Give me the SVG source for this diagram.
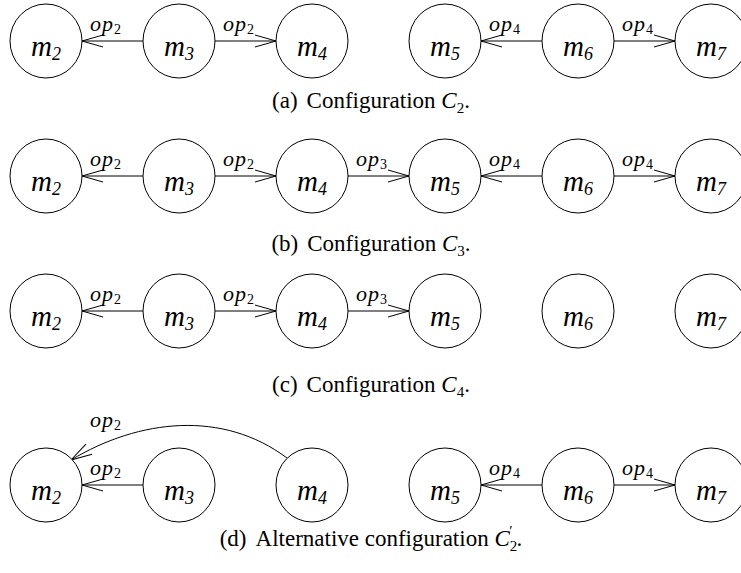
<svg xmlns="http://www.w3.org/2000/svg" width="741" height="573" viewBox="0 0 741 573">
<style>
.n{fill:#fff;stroke:#000;stroke-width:1}
.e{fill:none;stroke:#000;stroke-width:1;marker-end:url(#ah)}
.m{font-family:"Liberation Serif",serif;font-style:italic;font-size:29px;text-anchor:middle;fill:#000}
.s{font-size:18px}
.op{font-family:"Liberation Serif",serif;font-style:italic;font-size:22px;letter-spacing:1px;fill:#000}
.os{font-size:14px;font-style:normal}
.cap{font-family:"Liberation Serif",serif;font-size:23px;text-anchor:middle;fill:#000}
.cs{font-size:15px}
</style>
<defs>
<marker id="ah" markerWidth="24" markerHeight="14" refX="22" refY="7" orient="auto" markerUnits="userSpaceOnUse" overflow="visible">
<path d="M1,1 L22,7 L1,13" fill="none" stroke="#000" stroke-width="1"/>
</marker>
</defs>

<!-- Row (a) -->
<g id="connectors-a">
<line class="e" x1="143" y1="41" x2="82" y2="41"/>
<line class="e" x1="215" y1="41" x2="276" y2="41"/>
<line class="e" x1="542" y1="41" x2="481" y2="41"/>
<line class="e" x1="614" y1="41" x2="675" y2="41"/>
<text class="op" x="90" y="31">op<tspan class="os" dy="3">2</tspan></text>
<text class="op" x="223" y="31">op<tspan class="os" dy="3">2</tspan></text>
<text class="op" x="489" y="31">op<tspan class="os" dy="3">4</tspan></text>
<text class="op" x="622" y="31">op<tspan class="os" dy="3">4</tspan></text>
</g>
<g id="a-m2"><ellipse class="n" cx="46" cy="41" rx="36" ry="37"/><text class="m" x="46" y="56">m<tspan class="s" dy="4">2</tspan></text></g>
<g id="a-m3"><ellipse class="n" cx="179" cy="41" rx="36" ry="37"/><text class="m" x="179" y="56">m<tspan class="s" dy="4">3</tspan></text></g>
<g id="a-m4"><ellipse class="n" cx="312" cy="41" rx="36" ry="37"/><text class="m" x="312" y="56">m<tspan class="s" dy="4">4</tspan></text></g>
<g id="a-m5"><ellipse class="n" cx="445" cy="41" rx="36" ry="37"/><text class="m" x="445" y="56">m<tspan class="s" dy="4">5</tspan></text></g>
<g id="a-m6"><ellipse class="n" cx="578" cy="41" rx="36" ry="37"/><text class="m" x="578" y="56">m<tspan class="s" dy="4">6</tspan></text></g>
<g id="a-m7"><ellipse class="n" cx="711" cy="41" rx="36" ry="37"/><text class="m" x="711" y="56">m<tspan class="s" dy="4">7</tspan></text></g>
<text class="cap" x="371" y="108">(a)<tspan dx="9">Configuration </tspan><tspan font-style="italic">C</tspan><tspan class="cs" dy="5">2</tspan><tspan dy="-5">.</tspan></text>

<!-- Row (b) -->
<g id="connectors-b">
<line class="e" x1="143" y1="176" x2="82" y2="176"/>
<line class="e" x1="215" y1="176" x2="276" y2="176"/>
<line class="e" x1="348" y1="176" x2="409" y2="176"/>
<line class="e" x1="542" y1="176" x2="481" y2="176"/>
<line class="e" x1="614" y1="176" x2="675" y2="176"/>
<text class="op" x="90" y="166">op<tspan class="os" dy="3">2</tspan></text>
<text class="op" x="223" y="166">op<tspan class="os" dy="3">2</tspan></text>
<text class="op" x="356" y="166">op<tspan class="os" dy="3">3</tspan></text>
<text class="op" x="489" y="166">op<tspan class="os" dy="3">4</tspan></text>
<text class="op" x="622" y="166">op<tspan class="os" dy="3">4</tspan></text>
</g>
<g id="b-m2"><ellipse class="n" cx="46" cy="176" rx="36" ry="37"/><text class="m" x="46" y="191">m<tspan class="s" dy="4">2</tspan></text></g>
<g id="b-m3"><ellipse class="n" cx="179" cy="176" rx="36" ry="37"/><text class="m" x="179" y="191">m<tspan class="s" dy="4">3</tspan></text></g>
<g id="b-m4"><ellipse class="n" cx="312" cy="176" rx="36" ry="37"/><text class="m" x="312" y="191">m<tspan class="s" dy="4">4</tspan></text></g>
<g id="b-m5"><ellipse class="n" cx="445" cy="176" rx="36" ry="37"/><text class="m" x="445" y="191">m<tspan class="s" dy="4">5</tspan></text></g>
<g id="b-m6"><ellipse class="n" cx="578" cy="176" rx="36" ry="37"/><text class="m" x="578" y="191">m<tspan class="s" dy="4">6</tspan></text></g>
<g id="b-m7"><ellipse class="n" cx="711" cy="176" rx="36" ry="37"/><text class="m" x="711" y="191">m<tspan class="s" dy="4">7</tspan></text></g>
<text class="cap" x="371" y="251">(b)<tspan dx="9">Configuration </tspan><tspan font-style="italic">C</tspan><tspan class="cs" dy="5">3</tspan><tspan dy="-5">.</tspan></text>

<!-- Row (c) -->
<g id="connectors-c">
<line class="e" x1="143" y1="311" x2="82" y2="311"/>
<line class="e" x1="215" y1="311" x2="276" y2="311"/>
<line class="e" x1="348" y1="311" x2="409" y2="311"/>
<text class="op" x="90" y="301">op<tspan class="os" dy="3">2</tspan></text>
<text class="op" x="223" y="301">op<tspan class="os" dy="3">2</tspan></text>
<text class="op" x="356" y="301">op<tspan class="os" dy="3">3</tspan></text>
</g>
<g id="c-m2"><ellipse class="n" cx="46" cy="311" rx="36" ry="37"/><text class="m" x="46" y="326">m<tspan class="s" dy="4">2</tspan></text></g>
<g id="c-m3"><ellipse class="n" cx="179" cy="311" rx="36" ry="37"/><text class="m" x="179" y="326">m<tspan class="s" dy="4">3</tspan></text></g>
<g id="c-m4"><ellipse class="n" cx="312" cy="311" rx="36" ry="37"/><text class="m" x="312" y="326">m<tspan class="s" dy="4">4</tspan></text></g>
<g id="c-m5"><ellipse class="n" cx="445" cy="311" rx="36" ry="37"/><text class="m" x="445" y="326">m<tspan class="s" dy="4">5</tspan></text></g>
<g id="c-m6"><ellipse class="n" cx="578" cy="311" rx="36" ry="37"/><text class="m" x="578" y="326">m<tspan class="s" dy="4">6</tspan></text></g>
<g id="c-m7"><ellipse class="n" cx="711" cy="311" rx="36" ry="37"/><text class="m" x="711" y="326">m<tspan class="s" dy="4">7</tspan></text></g>
<text class="cap" x="371" y="392">(c)<tspan dx="9">Configuration </tspan><tspan font-style="italic">C</tspan><tspan class="cs" dy="5">4</tspan><tspan dy="-5">.</tspan></text>

<!-- Row (d) -->
<g id="connectors-d">
<path class="e" d="M287,458 C223,410 139.6,418.8 71,460"/>
<line class="e" x1="143" y1="485" x2="82" y2="485"/>
<line class="e" x1="542" y1="485" x2="481" y2="485"/>
<line class="e" x1="614" y1="485" x2="675" y2="485"/>
<text class="op" x="90" y="427">op<tspan class="os" dy="3">2</tspan></text>
<text class="op" x="90" y="475">op<tspan class="os" dy="3">2</tspan></text>
<text class="op" x="489" y="475">op<tspan class="os" dy="3">4</tspan></text>
<text class="op" x="622" y="475">op<tspan class="os" dy="3">4</tspan></text>
</g>
<g id="d-m2"><ellipse class="n" cx="46" cy="485" rx="36" ry="37"/><text class="m" x="46" y="500">m<tspan class="s" dy="4">2</tspan></text></g>
<g id="d-m3"><ellipse class="n" cx="179" cy="485" rx="36" ry="37"/><text class="m" x="179" y="500">m<tspan class="s" dy="4">3</tspan></text></g>
<g id="d-m4"><ellipse class="n" cx="312" cy="485" rx="36" ry="37"/><text class="m" x="312" y="500">m<tspan class="s" dy="4">4</tspan></text></g>
<g id="d-m5"><ellipse class="n" cx="445" cy="485" rx="36" ry="37"/><text class="m" x="445" y="500">m<tspan class="s" dy="4">5</tspan></text></g>
<g id="d-m6"><ellipse class="n" cx="578" cy="485" rx="36" ry="37"/><text class="m" x="578" y="500">m<tspan class="s" dy="4">6</tspan></text></g>
<g id="d-m7"><ellipse class="n" cx="711" cy="485" rx="36" ry="37"/><text class="m" x="711" y="500">m<tspan class="s" dy="4">7</tspan></text></g>
<text class="cap" x="371" y="546">(d)<tspan dx="9">Alternative configuration </tspan><tspan font-style="italic">C</tspan><tspan class="cs" dy="5">2</tspan><tspan class="cs" dx="-8" dy="-15">′</tspan><tspan dx="4" dy="10">.</tspan></text>
</svg>
